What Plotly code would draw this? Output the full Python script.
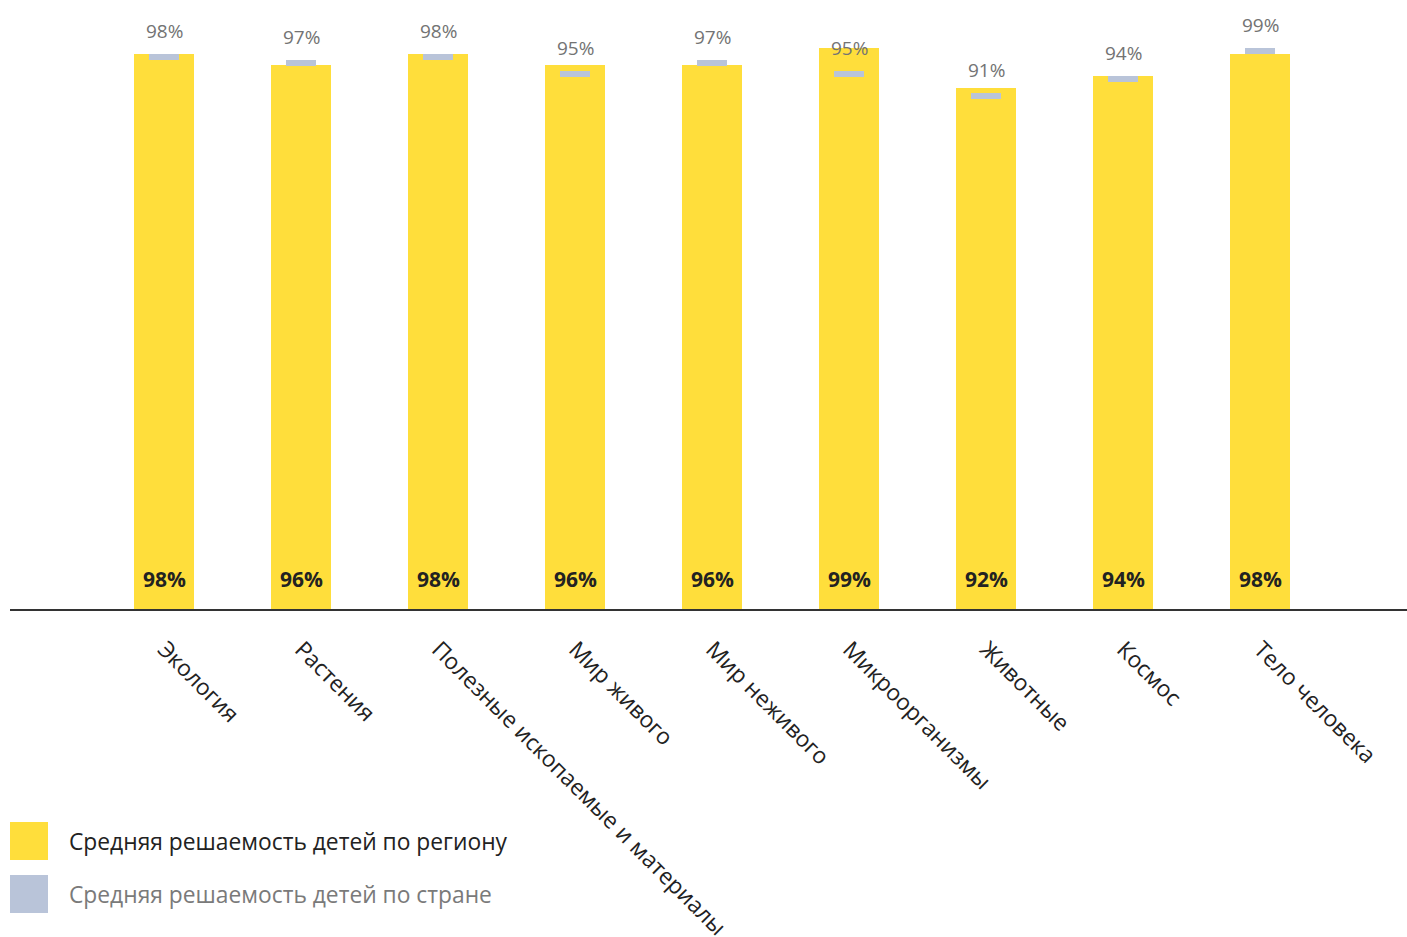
import plotly.graph_objects as go

categories = ["Экология", "Растения", "Полезные ископаемые и материалы", "Мир живого",
              "Мир неживого", "Микроорганизмы", "Животные", "Космос", "Тело человека"]
region_pct = [98, 96, 98, 96, 96, 99, 92, 94, 98]
country_pct = [98, 97, 98, 95, 97, 95, 91, 94, 99]
legend_labels = ["Средняя решаемость детей по региону", "Средняя решаемость детей по стране"]

YELLOW = "#FFDE3B"
GREY = "#B9C4D9"
FONT = "Open Sans"

W, H = 1407, 937
plot_bottom = 609
px_per_unit = 566.5          # pixels for 100 %
y_top = plot_bottom / px_per_unit
tick_h = 6 / px_per_unit     # thickness of the country marker

region = [v / 100 for v in region_pct]
country = [v / 100 for v in country_pct]

fig = go.Figure()

fig.add_trace(go.Bar(
    x=categories, y=region, width=0.438,
    marker=dict(color=YELLOW, line=dict(width=0)),
    hoverinfo="skip", showlegend=False,
))

# country average drawn as a short bar hanging from its value
fig.add_trace(go.Bar(
    x=categories, y=[tick_h] * len(country), base=[c - tick_h for c in country],
    width=0.22, marker=dict(color=GREY, line=dict(width=0)),
    hoverinfo="skip", showlegend=False,
))

annotations = []
for cat, r, c in zip(categories, region_pct, country_pct):
    annotations.append(dict(
        x=cat, y=0, xref="x", yref="y", text=f"<b>{r}%</b>", showarrow=False,
        yanchor="middle", yshift=30, font=dict(family=FONT, size=21, color="#222222"),
    ))
    annotations.append(dict(
        x=cat, y=c / 100, xref="x", yref="y", text=f"{c}%", showarrow=False,
        yanchor="middle", yshift=23, font=dict(family=FONT, size=19, color="#737373"),
    ))

# legend
shapes = []
legend_rows = [(841, YELLOW, "#222222"), (894, GREY, "#7A7A7A")]
for (yc, col, tcol), label in zip(legend_rows, legend_labels):
    shapes.append(dict(
        type="rect", xref="paper", yref="paper",
        x0=(10 - 10) / (W - 10), x1=(48 - 10) / (W - 10),
        y0=(H - yc - 19 - (H - plot_bottom)) / plot_bottom,
        y1=(H - yc + 19 - (H - plot_bottom)) / plot_bottom,
        fillcolor=col, line=dict(width=0),
    ))
    annotations.append(dict(
        x=(67 - 10) / (W - 10), y=(H - yc - (H - plot_bottom)) / plot_bottom,
        xref="paper", yref="paper", xanchor="left", yanchor="middle",
        text=label, showarrow=False, font=dict(family=FONT, size=22.8, color=tcol),
    ))

fig.update_layout(
    width=W, height=H,
    margin=dict(l=10, r=0, t=0, b=H - plot_bottom, autoexpand=False),
    paper_bgcolor="white", plot_bgcolor="white",
    barmode="overlay", bargap=0,
    shapes=shapes, annotations=annotations,
    xaxis=dict(
        type="category", range=[-1.127, 9.07], automargin=False,
        showgrid=False, zeroline=False,
        showline=True, linecolor="#333333", linewidth=2,
        ticks="", tickangle=45, ticklabelstandoff=16,
        tickfont=dict(family=FONT, size=22.7, color="#222222"),
    ),
    yaxis=dict(range=[0, y_top], visible=False, fixedrange=True, automargin=False),
    font=dict(family=FONT),
)

fig.write_html("out.html")
